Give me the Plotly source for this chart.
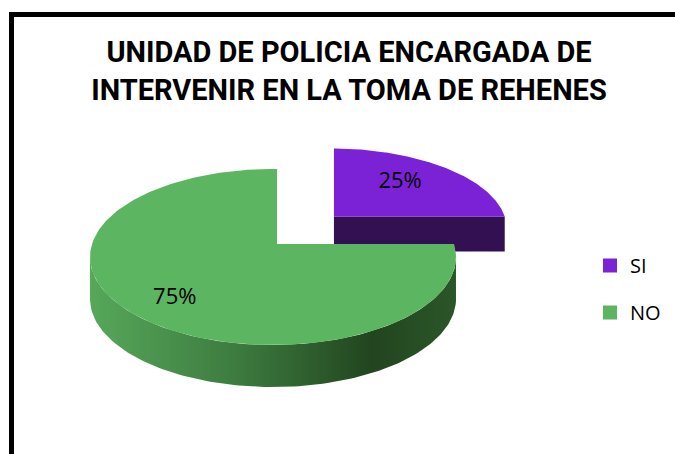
import numpy as np
import plotly.graph_objects as go

# ---------------- data ----------------
categories = ["SI", "NO"]
values = [25, 75]
top_colors = ["#7B22D6", "#5CB561"]
wall_colors = ["#331052", "#2a5a2c"]
title_lines = ["UNIDAD DE POLICIA ENCARGADA DE", "INTERVENIR EN LA TOMA DE REHENES"]

# ---------------- geometry / style ----------------
W, H = 675, 454
P = np.array([277.0, 244.0])      # projected pie centre
C = np.array([273.0, 257.0])      # top-face ellipse centre
RX, RY = 183.0, 88.0
DEPTH = 42.0
explode = [0.44, 0.0]
scale = [(0.965, 0.91), (1.0, 1.0)]
depth_scale = [0.83, 1.0]
label_frac = [(0.53, 0.60), (0.79, 0.87)]
green_grad = [[0, "#56a85a"], [0.4, "#3d7b3f"], [0.77, "#22451f"], [1, "#2b5629"]]


def ray_point(theta, p, c, rx, ry):
    d = np.array([np.sin(theta) * rx, -np.cos(theta) * ry])
    q = p - c
    A = (d[0] / rx) ** 2 + (d[1] / ry) ** 2
    B = 2 * (q[0] * d[0] / rx ** 2 + q[1] * d[1] / ry ** 2)
    Cc = (q[0] / rx) ** 2 + (q[1] / ry) ** 2 - 1
    t = (-B + np.sqrt(B * B - 4 * A * Cc)) / (2 * A)
    return p + t * d


total = sum(values)
slices = []
start = 0.0
for i, v in enumerate(values):
    a0 = start
    a1 = start + 2 * np.pi * v / total
    start = a1
    mid = (a0 + a1) / 2
    pc = P + explode[i] * np.array([np.sin(mid) * RX, -np.cos(mid) * RY])
    sx, sy = scale[i]
    cc = pc + (C - P) * np.array([sx, sy])
    rx, ry = RX * sx, RY * sy
    h = DEPTH * depth_scale[i]
    th = np.linspace(a0, a1, 200)
    arc = np.array([ray_point(t, pc, cc, rx, ry) for t in th])
    slices.append(dict(i=i, a0=a0, a1=a1, mid=mid, pc=pc, cc=cc, rx=rx, ry=ry, h=h, arc=arc))

fig = go.Figure()

# draw back-to-front (further slices first)
for s in sorted(slices, key=lambda s: s["pc"][1]):
    i = s["i"]
    pc, arc, h = s["pc"], s["arc"], s["h"]
    # outer wall (front part of rim)
    vis = arc[arc[:, 1] >= s["cc"][1]]
    if len(vis) > 1:
        low = vis + np.array([0, h])
        poly = np.vstack([vis, low[::-1], vis[:1]])
        kw = {}
        if i == 1:
            kw["fillgradient"] = dict(type="horizontal", colorscale=green_grad)
        else:
            kw["fillcolor"] = wall_colors[i]
        fig.add_trace(go.Scatter(x=poly[:, 0], y=poly[:, 1], mode="lines", fill="toself",
                                 line=dict(width=0), showlegend=False, hoverinfo="skip", **kw))
    # radial walls
    for edge, vis_cond in ((s["a0"], np.sin(s["a0"]) < -1e-9), (s["a1"], np.sin(s["a1"]) > 1e-9)):
        if vis_cond:
            e = ray_point(edge, pc, s["cc"], s["rx"], s["ry"])
            poly = np.array([pc, e, e + [0, h], pc + [0, h], pc])
            fig.add_trace(go.Scatter(x=poly[:, 0], y=poly[:, 1], mode="lines", fill="toself",
                                     fillcolor=wall_colors[i], line=dict(width=0),
                                     showlegend=False, hoverinfo="skip"))
    # top face
    poly = np.vstack([[pc], arc, [pc]])
    fig.add_trace(go.Scatter(x=poly[:, 0], y=poly[:, 1], mode="lines", fill="toself",
                             fillcolor=top_colors[i], line=dict(width=0),
                             showlegend=False, hoverinfo="skip"))

# data labels
for s in slices:
    i = s["i"]
    fx, fy = label_frac[i]
    lx = s["pc"][0] + fx * np.sin(s["mid"]) * s["rx"]
    ly = s["pc"][1] - fy * np.cos(s["mid"]) * s["ry"]
    fig.add_trace(go.Scatter(x=[lx], y=[ly], mode="text",
                             text=[f"{round(100 * values[i] / total)}%"],
                             textfont=dict(family="Open Sans", size=22, color="#000000"),
                             showlegend=False, hoverinfo="skip"))

# legend entries
for i, cat in enumerate(categories):
    fig.add_trace(go.Scatter(x=[None], y=[None], mode="markers", name=cat,
                             legendgroup=cat,
                             marker=dict(symbol="square", size=14, color=top_colors[i])))

fig.update_layout(
    width=W, height=H,
    margin=dict(l=0, r=0, t=0, b=0),
    paper_bgcolor="white", plot_bgcolor="white",
    xaxis=dict(range=[0, W], visible=False, fixedrange=True),
    yaxis=dict(range=[H, 0], visible=False, fixedrange=True),
    title=dict(text="<br>".join(title_lines), x=349 / W, xanchor="center",
               y=1 - 62 / H, yanchor="top",
               font=dict(family="Roboto", size=29, color="#000000", weight="bold")),
    legend=dict(x=590 / W, xanchor="left", y=1 - 246 / H, yanchor="top",
                font=dict(family="Open Sans", size=20, color="#000000"),
                tracegroupgap=18, bgcolor="rgba(0,0,0,0)"),
    shapes=[
        dict(type="line", xref="paper", yref="paper", x0=11.5 / W, x1=1.02,
             y0=1 - 14.5 / H, y1=1 - 14.5 / H, line=dict(color="black", width=5)),
        dict(type="line", xref="paper", yref="paper", x0=11.5 / W, x1=11.5 / W,
             y0=1 - 12 / H, y1=-0.02, line=dict(color="black", width=5)),
    ],
)

fig.write_html("out.html", config={"displayModeBar": False},
               post_script="document.body.style.margin='0';")
